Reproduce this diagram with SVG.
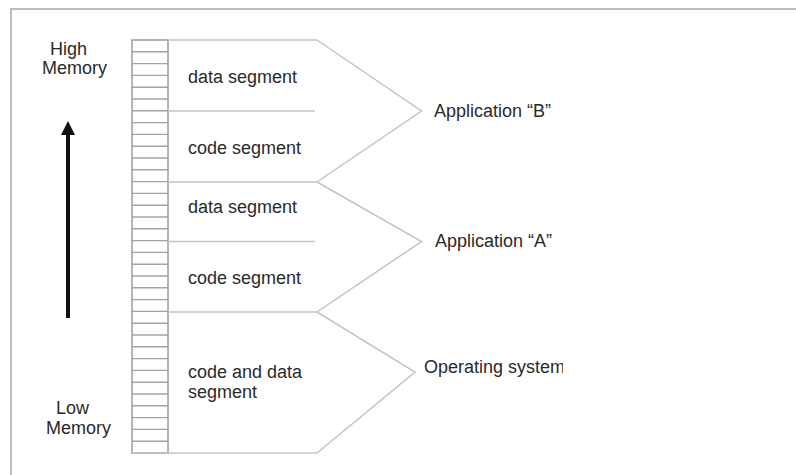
<svg xmlns="http://www.w3.org/2000/svg" width="796" height="475" viewBox="0 0 796 475">
  <style>
    text { font-family: "Liberation Sans", Arial, sans-serif; font-size: 18px; fill: #2a2a2a; }
    .rung { stroke: #a4a4a4; stroke-width: 1.4; }
    .rail { stroke: #9c9c9c; stroke-width: 1.5; fill: none; }
    .seg { stroke: #c4c4c4; stroke-width: 1.5; fill: none; }
    .frame { stroke: #bcbcc2; stroke-width: 2; fill: none; }
  </style>
  <defs>
    <clipPath id="osclip"><rect x="400" y="340" width="163" height="50"/></clipPath>
    <!-- one rung of the memory ladder, repeated every 11.8 px -->
    <line id="r" class="rung" x1="132" y1="0" x2="168" y2="0"/>
  </defs>

  <rect width="796" height="475" fill="#ffffff"/>
  <!-- page frame (top and left edges) -->
  <path class="frame" d="M11,475 V9 H796"/>

  <!-- memory address ladder -->
  <g id="ladder">
    <use href="#r" y="51.8"/><use href="#r" y="63.6"/><use href="#r" y="75.4"/><use href="#r" y="87.2"/>
    <use href="#r" y="99"/><use href="#r" y="110.8"/><use href="#r" y="122.6"/><use href="#r" y="134.4"/>
    <use href="#r" y="146.2"/><use href="#r" y="158"/><use href="#r" y="169.8"/><use href="#r" y="181.6"/>
    <use href="#r" y="193.4"/><use href="#r" y="205.2"/><use href="#r" y="217"/><use href="#r" y="228.8"/>
    <use href="#r" y="240.6"/><use href="#r" y="252.4"/><use href="#r" y="264.2"/><use href="#r" y="276"/>
    <use href="#r" y="287.8"/><use href="#r" y="299.6"/><use href="#r" y="311.4"/><use href="#r" y="323.2"/>
    <use href="#r" y="335"/><use href="#r" y="346.8"/><use href="#r" y="358.6"/><use href="#r" y="370.4"/>
    <use href="#r" y="382.2"/><use href="#r" y="394"/><use href="#r" y="405.8"/><use href="#r" y="417.6"/>
    <use href="#r" y="429.4"/><use href="#r" y="441.2"/>
    <rect class="rail" x="132" y="40" width="36" height="413"/>
  </g>

  <!-- segment boxes -->
  <g id="app-b-segments">
    <line class="seg" x1="168" y1="40" x2="317" y2="40"/>
    <line class="seg" x1="168" y1="111" x2="315" y2="111"/>
    <text x="188" y="83">data segment</text>
    <text x="188" y="154">code segment</text>
  </g>
  <g id="app-a-segments">
    <line class="seg" x1="168" y1="182" x2="317" y2="182"/>
    <line class="seg" x1="168" y1="241.5" x2="315" y2="241.5"/>
    <text x="188" y="213">data segment</text>
    <text x="188" y="284">code segment</text>
  </g>
  <g id="os-segment">
    <line class="seg" x1="168" y1="312" x2="317" y2="312"/>
    <line class="seg" x1="132" y1="453" x2="317" y2="453"/>
    <text x="188" y="378">code and data</text>
    <text x="188" y="398">segment</text>
  </g>

  <!-- braces joining each group of segments to its owner -->
  <g id="connectors">
    <polyline class="seg" points="317,40 421.5,111 317,182"/>
    <polyline class="seg" points="317,182 421.5,241.5 317,312"/>
    <polyline class="seg" points="317,312 415,372 317,453"/>
  </g>

  <g id="label-app-b"><text x="434" y="117">Application “B”</text></g>
  <g id="label-app-a"><text x="435" y="247">Application “A”</text></g>
  <g id="label-os"><text x="424" y="373" clip-path="url(#osclip)">Operating system</text></g>

  <!-- memory direction -->
  <g id="direction">
    <text x="50" y="55">High</text>
    <text x="42" y="74">Memory</text>
    <line x1="68" y1="318" x2="68" y2="133" stroke="#111" stroke-width="4"/>
    <polygon points="61,135 68,121 75,135" fill="#111"/>
    <text x="56" y="414">Low</text>
    <text x="46" y="434">Memory</text>
  </g>
</svg>
